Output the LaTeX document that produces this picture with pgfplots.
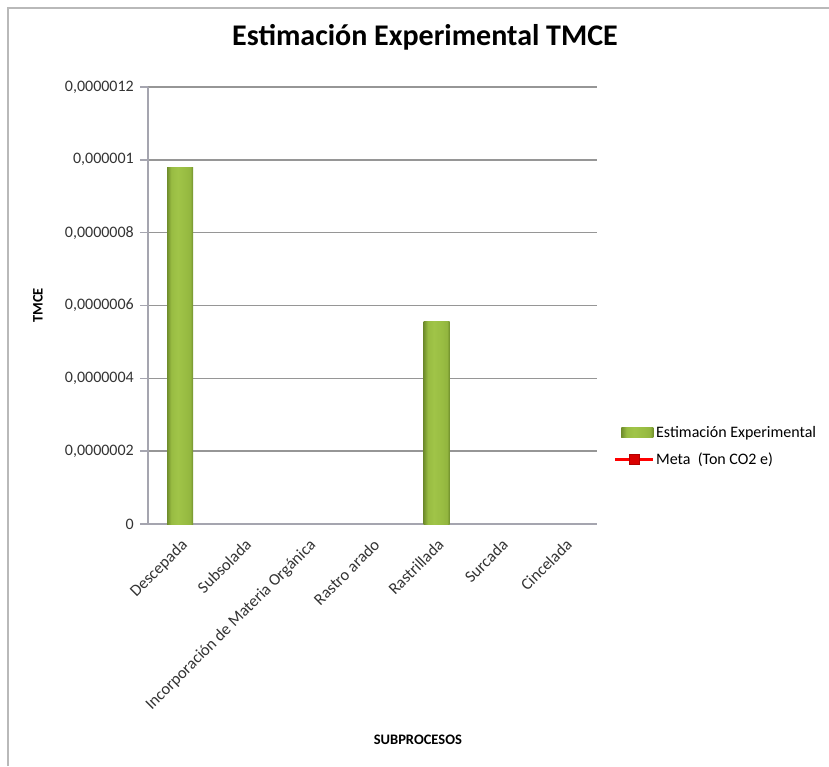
\documentclass[border=0pt]{standalone}
\usepackage{pgfplots}
\pgfplotsset{compat=1.18}
\usepackage{fontspec}
\setmainfont{Carlito}
\definecolor{barmid}{RGB}{152,188,66}
\definecolor{barlight}{RGB}{160,196,72}
\definecolor{baredge}{RGB}{112,142,44}
\definecolor{gridc}{RGB}{150,150,150}
\definecolor{axc}{RGB}{165,165,175}
\pgfdeclarehorizontalshading{barshade}{100bp}{color(0bp)=(baredge); color(25bp)=(baredge); color(33bp)=(barmid); color(45bp)=(barlight); color(62bp)=(barmid); color(70bp)=(barmid!85!baredge); color(75bp)=(baredge); color(100bp)=(baredge)}
\pgfplotsset{
  metalegend/.style={legend image code/.code={\draw[##1, mark=none] (0pt,0pt) -- (38pt,0pt); \draw[##1, line width=0pt] plot coordinates {(19pt,0pt)};}},
  barlegend/.style={legend image code/.code={\fill[shading=barshade] (6pt,-5pt) rectangle (38pt,5pt);}},
}
\begin{document}
\begin{tikzpicture}
\useasboundingbox (0,0) rectangle (829pt,766pt);
\draw[gray!55, line width=2pt] (8pt,0pt) -- (8pt,758pt) -- (829pt,758pt);
\begin{axis}[
  at={(148pt,242pt)}, anchor=south west,
  scale only axis, width=449pt, height=437pt,
  xmin=-0.5, xmax=6.5, ymin=0, ymax=1.2e-6,
  axis x line*=bottom, axis y line*=left,
  axis line style={-, axc, line width=1.5pt},
  ybar, bar width=26pt, bar shift=0pt,
  xtick={0,1,2,3,4,5,6},
  xticklabels={Descepada,Subsolada,Incorporación de Materia Orgánica,Rastro arado,Rastrillada,Surcada,Cincelada},
  x tick style={draw=none},
  xticklabel style={rotate=45, anchor=north east, inner sep=4pt, font=\fontsize{16.5}{19}\selectfont, text=black!80},
  ytick={0,2e-7,4e-7,6e-7,8e-7,1e-6,1.2e-6},
  yticklabels={{0},{0,0000002},{0,0000004},{0,0000006},{0,0000008},{0,000001},{0,0000012}},
  scaled y ticks=false,
  y tick style={axc, line width=1.5pt},
  tick align=outside, major tick length=8pt,
  yticklabel style={font=\fontsize{16}{18}\selectfont, text=black!80, inner sep=6pt},
  ymajorgrids, grid style={gridc, line width=1.5pt},
  ylabel={\textbf{TMCE}},
  ylabel style={at={(axis description cs:-0.245,0.5)}, anchor=center, font=\fontsize{14.5}{17}\selectfont},
  xlabel={\textbf{SUBPROCESOS}},
  xlabel style={at={(axis description cs:0.601,-0.494)}, anchor=center, font=\fontsize{14.5}{17}\selectfont},
  title={\textbf{Estimación Experimental TMCE}},
  title style={at={(axis description cs:0.617,1.10)}, anchor=center, font=\fontsize{30}{35}\selectfont},
  legend style={at={(axis description cs:1.03,0.178)}, anchor=west, draw=none, fill=none,
    font=\fontsize{16}{19}\selectfont, row sep=12pt, nodes={inner sep=1pt}},
  legend cell align=left,
]
% Estimación Experimental: Descepada
\addplot[draw=none, fill=barmid, shading=barshade, barlegend]
  coordinates {(0,9.78e-7)};
\addlegendentry{Estimación Experimental}
% Estimación Experimental: Rastrillada (same series)
\addplot[draw=none, fill=barmid, shading=barshade, forget plot]
  coordinates {(4,5.55e-7)};
\addlegendimage{red, line width=3.5pt, mark=square*, mark size=5pt, mark options={fill=red!85!black, draw=red!70!black, line width=1pt}, metalegend}
\addlegendentry{Meta\ \ (Ton CO2 e)}
\end{axis}
\end{tikzpicture}
\end{document}
